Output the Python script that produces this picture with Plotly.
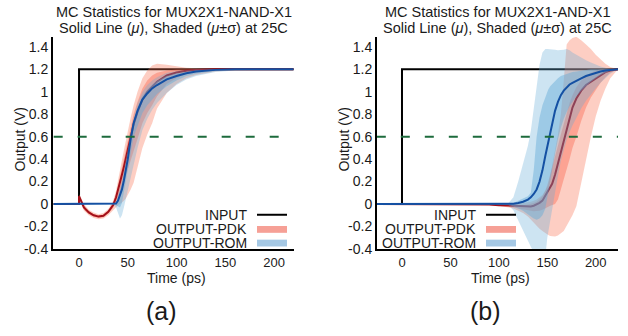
import plotly.graph_objects as go

W, H = 628, 336

# ---------------- data: panel (a) MUX2X1-NAND-X1 ----------------
tl = [-26, 0, 0, 5, 10, 15, 20, 25, 30, 35, 38, 40, 42, 44, 46, 48, 50, 53, 56, 60,
      65, 70, 75, 80, 90, 100, 110, 120, 140, 160, 190, 220]
a_pdk_mean = [0, 0, 0.07, -0.03, -0.075, -0.1, -0.112, -0.105, -0.07, -0.01, 0.06, 0.12, 0.19, 0.26,
              0.33, 0.41, 0.49, 0.61, 0.71, 0.82, 0.93, 1.0, 1.05, 1.09, 1.145, 1.172, 1.187, 1.195,
              1.2, 1.2, 1.2, 1.2]
a_pdk_hi = [0, 0, 0.09, 0.0, -0.05, -0.075, -0.09, -0.08, -0.045, 0.03, 0.12, 0.22, 0.31, 0.39, 0.48,
            0.57, 0.65, 0.77, 0.88, 1.0, 1.12, 1.19, 1.235, 1.25, 1.24, 1.225, 1.215, 1.21, 1.205,
            1.2, 1.2, 1.2]
a_pdk_lo = [0, 0, 0.05, -0.06, -0.1, -0.125, -0.135, -0.13, -0.1, -0.06, -0.03, -0.01, 0.0, 0.01,
            0.03, 0.05, 0.08, 0.13, 0.19, 0.33, 0.5, 0.62, 0.72, 0.85, 0.99, 1.07, 1.12, 1.15, 1.18,
            1.195, 1.2, 1.2]
a_pdk_hi2 = [0, 0, 0.08, -0.015, -0.06, -0.088, -0.1, -0.093, -0.058, 0.01, 0.09, 0.17, 0.25, 0.33,
             0.41, 0.49, 0.57, 0.69, 0.8, 0.91, 1.03, 1.1, 1.145, 1.17, 1.19, 1.198, 1.2, 1.2, 1.2,
             1.2, 1.2, 1.2]
a_pdk_lo2 = [0, 0, 0.06, -0.045, -0.088, -0.112, -0.124, -0.118, -0.085, -0.035, 0.02, 0.06, 0.1,
             0.14, 0.18, 0.23, 0.29, 0.38, 0.46, 0.58, 0.72, 0.81, 0.88, 0.96, 1.07, 1.12, 1.155,
             1.172, 1.19, 1.198, 1.2, 1.2]
a_rom_mean = [0, 0, 0, 0, 0, 0, 0, 0, 0, 0, 0.005, 0.03, 0.08, 0.13, 0.21, 0.3, 0.4, 0.58, 0.72,
              0.83, 0.93, 0.985, 1.03, 1.06, 1.11, 1.14, 1.165, 1.18, 1.195, 1.2, 1.2, 1.2]
a_rom_hi = [0.005, 0.005, 0.005, 0.005, 0.005, 0.005, 0.005, 0.005, 0.005, 0.005, 0.02, 0.08, 0.15,
            0.22, 0.3, 0.39, 0.48, 0.64, 0.77, 0.9, 1.0, 1.06, 1.1, 1.13, 1.17, 1.185, 1.195, 1.2,
            1.2, 1.2, 1.2, 1.2]
a_rom_lo = [-0.005, -0.005, -0.005, -0.005, -0.005, -0.005, -0.005, -0.005, -0.005, -0.005, -0.03,
            -0.08, -0.13, -0.1, -0.03, 0.03, 0.1, 0.22, 0.34, 0.5, 0.66, 0.76, 0.84, 0.9, 0.99, 1.06,
            1.11, 1.14, 1.175, 1.19, 1.2, 1.2]
a_rom_hi2 = [0.003, 0.003, 0.003, 0.003, 0.003, 0.003, 0.003, 0.003, 0.003, 0.003, 0.012, 0.055,
             0.115, 0.175, 0.255, 0.345, 0.44, 0.61, 0.745, 0.865, 0.965, 1.02, 1.065, 1.095, 1.14,
             1.165, 1.18, 1.19, 1.198, 1.2, 1.2, 1.2]
a_rom_lo2 = [-0.003, -0.003, -0.003, -0.003, -0.003, -0.003, -0.003, -0.003, -0.003, -0.003, -0.01,
             -0.02, -0.03, 0.01, 0.1, 0.2, 0.3, 0.45, 0.6, 0.7, 0.81, 0.88, 0.93, 0.98, 1.05, 1.1,
             1.14, 1.16, 1.185, 1.197, 1.2, 1.2]

# ---------------- data: panel (b) MUX2X1-AND-X1 ----------------
tr = [-26, 0, 50, 90, 100, 105, 110, 115, 120, 125, 130, 133, 136, 139, 142, 145, 148, 150, 151,
      153, 155, 158, 161, 164, 167, 170, 173, 176, 180, 185, 190, 195, 200, 205, 210, 215, 223]
b_rom_mean = [0, 0, 0, 0, 0, 0, 0, 0.003, 0.01, 0.02, 0.04, 0.06, 0.09, 0.13, 0.2, 0.3, 0.43, 0.51,
              0.56, 0.64, 0.72, 0.83, 0.91, 0.97, 1.01, 1.04, 1.065, 1.08, 1.1, 1.12, 1.14, 1.155,
              1.17, 1.18, 1.19, 1.195, 1.2]
b_rom_hi = [0.003, 0.003, 0.003, 0.003, 0.005, 0.005, 0.01, 0.06, 0.2, 0.36, 0.52, 0.65, 0.85, 1.08,
            1.24, 1.35, 1.38, 1.38, 1.38, 1.38, 1.38, 1.375, 1.37, 1.37, 1.375, 1.38, 1.37, 1.35,
            1.33, 1.3, 1.28, 1.26, 1.24, 1.225, 1.215, 1.205, 1.2]
b_rom_lo = [-0.003, -0.003, -0.003, -0.003, -0.005, -0.005, -0.01, -0.055, -0.145, -0.235, -0.325,
            -0.38, -0.43, -0.47, -0.5, -0.5, -0.47, -0.3, -0.22, -0.12, -0.04, 0.1, 0.25, 0.38, 0.48,
            0.57, 0.64, 0.7, 0.77, 0.85, 0.92, 0.98, 1.03, 1.08, 1.12, 1.16, 1.2]
b_rom_hi2 = [0.002, 0.002, 0.002, 0.002, 0.003, 0.004, 0.005, 0.01, 0.03, 0.05, 0.07, 0.1, 0.3, 0.6,
             0.77, 0.88, 0.95, 1.0, 1.02, 1.05, 1.07, 1.1, 1.12, 1.14, 1.15, 1.16, 1.17, 1.175, 1.18,
             1.19, 1.195, 1.2, 1.2, 1.2, 1.2, 1.2, 1.2]
b_rom_lo2 = [-0.002, -0.002, -0.002, -0.002, -0.003, -0.004, -0.005, -0.02, -0.04, -0.06, -0.09,
             -0.11, -0.13, -0.14, -0.13, -0.1, -0.04, 0.05, 0.1, 0.2, 0.3, 0.45, 0.58, 0.68, 0.76,
             0.82, 0.87, 0.91, 0.96, 1.01, 1.05, 1.09, 1.12, 1.15, 1.17, 1.19, 1.2]
b_pdk_mean = [0, 0, 0, -0.005, -0.01, -0.012, -0.015, -0.02, -0.022, -0.025, -0.025, -0.022, -0.015,
              -0.005, 0.01, 0.03, 0.07, 0.1, 0.12, 0.15, 0.18, 0.26, 0.36, 0.47, 0.57, 0.67, 0.78,
              0.86, 0.94, 1.01, 1.06, 1.09, 1.12, 1.15, 1.175, 1.19, 1.2]
b_pdk_hi = [0.003, 0.003, 0.003, 0.0, 0.0, 0.0, 0.0, 0.0, 0.005, 0.01, 0.015, 0.02, 0.03, 0.04, 0.06,
            0.08, 0.12, 0.15, 0.17, 0.25, 0.33, 0.48, 0.62, 0.8, 1.1, 1.42, 1.46, 1.48, 1.49, 1.46,
            1.42, 1.38, 1.33, 1.29, 1.25, 1.22, 1.2]
b_pdk_lo = [-0.003, -0.003, -0.003, -0.01, -0.015, -0.02, -0.03, -0.04, -0.06, -0.08, -0.11, -0.13,
            -0.16, -0.19, -0.22, -0.24, -0.26, -0.27, -0.275, -0.285, -0.29, -0.29, -0.28, -0.26,
            -0.24, -0.2, -0.15, -0.1, -0.02, 0.18, 0.4, 0.6, 0.78, 0.92, 1.03, 1.12, 1.2]
b_pdk_hi2 = [0, 0, 0, -0.003, -0.005, -0.006, -0.008, -0.01, -0.01, -0.01, -0.005, 0.0, 0.01, 0.02,
             0.04, 0.07, 0.12, 0.17, 0.2, 0.26, 0.32, 0.42, 0.52, 0.62, 0.72, 0.82, 0.9, 0.97, 1.04,
             1.1, 1.14, 1.17, 1.19, 1.2, 1.2, 1.2, 1.2]
b_pdk_lo2 = [0, 0, 0, -0.008, -0.015, -0.02, -0.025, -0.03, -0.035, -0.045, -0.055, -0.06, -0.065,
             -0.065, -0.06, -0.05, -0.04, -0.03, -0.025, -0.015, -0.005, 0.0, 0.04, 0.13, 0.22, 0.3,
             0.4, 0.5, 0.6, 0.74, 0.86, 0.95, 1.02, 1.08, 1.13, 1.17, 1.2]

# input step and threshold
input_v = [0, 0, 1.2, 1.2]
vth = 0.6

xtick_vals = [0, 50, 100, 150, 200]
xtick_text = ["0", "50", "100", "150", "200"]
ytick_vals = [-0.4, -0.2, 0, 0.2, 0.4, 0.6, 0.8, 1, 1.2, 1.4]
ytick_text = ["-0.4", "-0.2", "0", "0.2", "0.4", "0.6", "0.8", "1", "1.2", "1.4"]

titles = ["MC Statistics for MUX2X1-NAND-X1", "MC Statistics for MUX2X1-AND-X1"]
subtitle = "Solid Line (<i>μ</i>), Shaded (<i>μ</i>±σ) at 25C"
panel_labels = ["(a)", "(b)"]
legend_names = ["INPUT", "OUTPUT-PDK", "OUTPUT-ROM"]

# ---------------- style ----------------
FONT = "Liberation Sans, Arial, Helvetica, sans-serif"
TXT = "#1a1a1a"
PDK_FILL_OUT = "rgba(250,110,80,0.34)"
PDK_FILL_IN = "rgba(250,100,75,0.40)"
ROM_FILL_OUT = "rgba(100,170,215,0.32)"
ROM_FILL_IN = "rgba(100,170,215,0.45)"
PDK_LINE = "#a3101a"
ROM_LINE = "#1450a3"
GREEN = "#1d6b3c"

fig = go.Figure()


def band(t, hi, lo, color, xa, ya):
    fig.add_trace(go.Scatter(x=list(t) + list(t)[::-1], y=list(hi) + list(lo)[::-1],
                             fill="toself", fillcolor=color, mode="lines",
                             line=dict(width=0), hoverinfo="skip", showlegend=False,
                             xaxis=xa, yaxis=ya))


def line(x, y, color, xa, ya, width=2, dash=None):
    fig.add_trace(go.Scatter(x=x, y=y, mode="lines",
                             line=dict(color=color, width=width, dash=dash),
                             showlegend=False, hoverinfo="skip", xaxis=xa, yaxis=ya))


panels = [
    dict(t=tl, pm=a_pdk_mean, ph=a_pdk_hi, pl=a_pdk_lo, ph2=a_pdk_hi2, pl2=a_pdk_lo2,
         rm=a_rom_mean, rh=a_rom_hi, rl=a_rom_lo, rh2=a_rom_hi2, rl2=a_rom_lo2, xa="x", ya="y"),
    dict(t=tr, pm=b_pdk_mean, ph=b_pdk_hi, pl=b_pdk_lo, ph2=b_pdk_hi2, pl2=b_pdk_lo2,
         rm=b_rom_mean, rh=b_rom_hi, rl=b_rom_lo, rh2=b_rom_hi2, rl2=b_rom_lo2, xa="x2", ya="y2"),
]

for p in panels:
    t = p["t"]
    xa, ya = p["xa"], p["ya"]
    line([t[0], 0, 0, t[-1]], input_v, "black", xa, ya, width=2)
    band(t, p["ph"], p["pl"], PDK_FILL_OUT, xa, ya)
    band(t, p["ph2"], p["pl2"], PDK_FILL_IN, xa, ya)
    line(t, p["pm"], PDK_LINE, xa, ya, width=2)
    band(t, p["rh"], p["rl"], ROM_FILL_OUT, xa, ya)
    band(t, p["rh2"], p["rl2"], ROM_FILL_IN, xa, ya)
    line(t, p["rm"], ROM_LINE, xa, ya, width=2)
    line([t[0], t[-1]], [vth, vth], GREEN, xa, ya, width=2, dash="9px,15px")

# geometry (pixels)
left_dom = (53, 294)
right_dom = (377, 618)
y_top, y_bot = 38, 255


def px(x):
    return x / W


def py(y):
    return 1 - y / H


axis_common = dict(showline=True, linecolor="black", linewidth=2, ticks="", showgrid=False,
                   zeroline=False)
xfont = dict(family=FONT, size=13, color=TXT)
yfont = dict(family=FONT, size=14, color=TXT)

fig.update_layout(
    width=W, height=H, margin=dict(l=0, r=0, t=0, b=0),
    paper_bgcolor="white", plot_bgcolor="white", showlegend=False,
    xaxis=dict(domain=[px(left_dom[0]), px(left_dom[1])], range=[-26.7, 220.5], anchor="y",
               tickvals=xtick_vals, ticktext=xtick_text, tickfont=xfont, **axis_common),
    yaxis=dict(domain=[py(y_bot), py(y_top)], range=[-0.4, 1.487], anchor="x",
               tickvals=ytick_vals, ticktext=ytick_text, tickfont=yfont, **axis_common),
    xaxis2=dict(domain=[px(right_dom[0]), px(right_dom[1])], range=[-25.8, 223], anchor="y2",
                tickvals=xtick_vals, ticktext=xtick_text, tickfont=xfont, **axis_common),
    yaxis2=dict(domain=[py(y_bot), py(y_top)], range=[-0.4, 1.487], anchor="x2",
                tickvals=ytick_vals, ticktext=ytick_text, tickfont=yfont, **axis_common),
)

annots = []
shapes = []


def ann(x, y, text, size, xanchor="center", angle=0):
    annots.append(dict(x=px(x), y=py(y), xref="paper", yref="paper", text=text,
                       showarrow=False, xanchor=xanchor, yanchor="middle", textangle=angle,
                       borderpad=0, font=dict(family=FONT, size=size, color=TXT)))


for i, dom in enumerate([left_dom, right_dom]):
    cx = (dom[0] + dom[1]) / 2
    ann(cx, 12, titles[i], 14.5)
    ann(cx, 29, subtitle, 14.5)
    ann(cx + 3, 285, "Time (ps)", 14)
    ann(dom[0] - 33, 143, "Output (V)", 14, angle=-90)
    ann(cx - 12, 319, panel_labels[i], 25)
    # manual legend (text right, swatch on right)
    txt_right = dom[0] + 195 if i == 0 else dom[0] + 100
    sw0 = txt_right + 9
    sw1 = sw0 + 30
    rows = [220, 235, 249]
    for name, yy in zip(legend_names, rows):
        ann(txt_right, yy, name, 14, xanchor="right")
    shapes.append(dict(type="line", xref="paper", yref="paper", x0=px(sw0), x1=px(sw1),
                       y0=py(rows[0]), y1=py(rows[0]), line=dict(color="black", width=2)))
    shapes.append(dict(type="rect", xref="paper", yref="paper", x0=px(sw0), x1=px(sw1),
                       y0=py(rows[1] - 3.5), y1=py(rows[1] + 3.5),
                       fillcolor="rgb(246,160,150)", line=dict(width=0)))
    shapes.append(dict(type="rect", xref="paper", yref="paper", x0=px(sw0), x1=px(sw1),
                       y0=py(rows[2] - 3.5), y1=py(rows[2] + 3.5),
                       fillcolor="rgb(165,200,228)", line=dict(width=0)))

fig.update_layout(annotations=annots, shapes=shapes)
fig.write_html("out.html")
